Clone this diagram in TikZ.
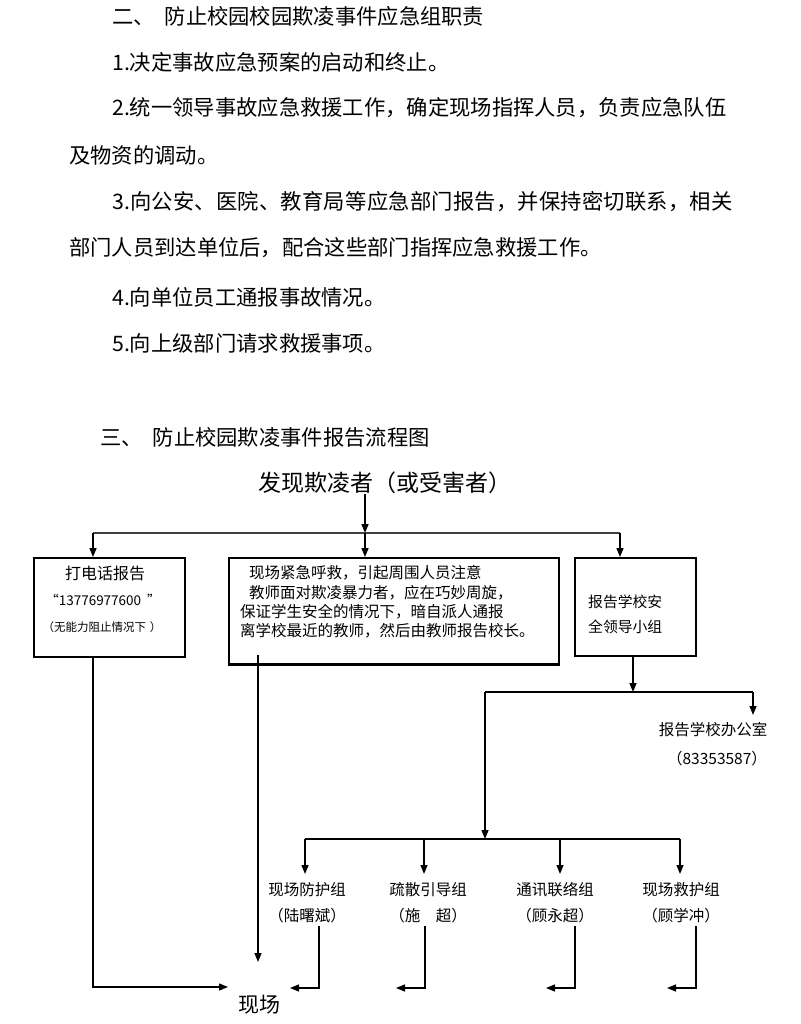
\documentclass[tikz,border=0pt]{standalone}
\usepackage{fontspec}
\setmainfont{Noto Sans CJK SC}
\usetikzlibrary{arrows.meta}
\tikzset{
  conn/.style={line width=1.4pt, -{Triangle[length=9pt,width=7pt]}},
  plain/.style={line width=1.4pt},
  thinline/.style={line width=1.1pt, black!75},
  boxnode/.style={draw, line width=1.6pt, inner sep=0pt, anchor=north west},
  body/.style={anchor=west, inner sep=0pt, font=\fontsize{21.3}{24}\selectfont},
  lbl/.style={inner sep=0pt, font=\fontsize{15.5}{18}\selectfont},
  boxtxt/.style={anchor=west, inner sep=0pt, font=\fontsize{15.5}{18}\selectfont},
}
\begin{document}
\begin{tikzpicture}[x=1pt,y=-1pt]
\useasboundingbox (0,0) rectangle (800,1024);
% ---- section two text
\node[body] (h2) at (112,16) {二、\hspace{10pt}防止校园校园欺凌事件应急组职责};
\node[body] (l1) at (112,62) {1.决定事故应急预案的启动和终止。};
\node[body] (l2) at (112,108) {2.统一领导事故应急救援工作，确定现场指挥人员，负责应急队伍};
\node[body] (l2b) at (69,155) {及物资的调动。};
\node[body] (l3) at (112,202) {\addfontfeature{LetterSpace=1}3.向公安、医院、教育局等应急部门报告，并保持密切联系，相关};
\node[body] (l3b) at (69,248) {部门人员到达单位后，配合这些部门指挥应急救援工作。};
\node[body] (l4) at (112,297) {4.向单位员工通报事故情况。};
\node[body] (l5) at (112,343) {5.向上级部门请求救援事项。};
% ---- section three
\node[body] (h3) at (100,437) {三、\hspace{10pt}防止校园欺凌事件报告流程图};
\node[inner sep=0pt, font=\fontsize{23}{26}\selectfont] (find) at (385,483) {发现欺凌者（或受害者）};
% boxes
\node[boxnode, minimum width=151pt, minimum height=99pt] (call) at (33,557) {};
\node[boxnode, minimum width=330pt, minimum height=106pt] (scene) at (228,557) {};
\draw[line width=2.6pt] (scene.south west) -- (scene.south east);
\node[boxnode, minimum width=121pt, minimum height=98pt] (lead) at (574,557) {};
% box texts
\node[inner sep=0pt, font=\fontsize{16}{19}\selectfont] (callt1) at (105,573) {打电话报告};
\node[inner sep=0pt, font=\fontsize{13.5}{15}\selectfont] (callt2) at (103,600) {“13776977600\hspace{6pt}”};
\node[inner sep=0pt, font=\fontsize{11.5}{13}\selectfont] (callt3) at (102,627) {（无能力阻止情况下\hspace{4pt}）};
\node[boxtxt] (sc1) at (249,573) {现场紧急呼救，引起周围人员注意};
\node[boxtxt] (sc2) at (249,593) {教师面对欺凌暴力者，应在巧妙周旋，};
\node[boxtxt] (sc3) at (240,612) {保证学生安全的情况下，暗自派人通报};
\node[boxtxt] (sc4) at (240,631) {离学校最近的教师，然后由教师报告校长。};
\node[boxtxt, font=\fontsize{14.8}{18}\selectfont] (ld1) at (588,602) {报告学校安};
\node[boxtxt, font=\fontsize{14.8}{18}\selectfont] (ld2) at (588,627) {全领导小组};
% top split
\coordinate (jt) at (365,533);
\coordinate (jl) at (93,533);
\coordinate (jr) at (620,533);
\draw[conn] (find.south -| jt) -- (jt);
\draw[thinline] (jl) -- (jr);
\draw[conn] (jl) -- (jl |- call.north);
\draw[conn] (jt) -- (jt |- scene.north);
\draw[conn] (jr) -- (jr |- lead.north);
% right branch
\coordinate (rj) at (633,692);
\coordinate (rl) at (485,692);
\coordinate (rr) at (753,692);
\draw[conn] (lead.south -| rj) -- (rj);
\draw[plain] (rl) -- (rr);
\node[lbl] (office) at (713,730) {报告学校办公室};
\node[lbl] (officenum) at (717,759) {（83353587）};
\coordinate (officetop) at (753,715);
\draw[conn] (rr) -- (officetop);
% groups
\coordinate (gj) at (485,839);
\coordinate (g1) at (305,839);
\coordinate (g2) at (424,839);
\coordinate (g3) at (560,839);
\coordinate (g4) at (680,839);
\draw[conn] (rl) -- (gj);
\draw[plain] (g1) -- (g4);
\node[lbl] (gA) at (307,890) {现场防护组};
\node[lbl] (gB) at (428,890) {疏散引导组};
\node[lbl] (gC) at (555,890) {通讯联络组};
\node[lbl] (gD) at (681,890) {现场救护组};
\node[lbl] (pA) at (307,916) {（陆曙斌）};
\node[lbl] (pB) at (428,916) {（施　超）};
\node[lbl] (pC) at (555,916) {（顾永超）};
\node[lbl] (pD) at (681,916) {（顾学冲）};
\coordinate (tA) at (305,874);
\coordinate (tB) at (424,874);
\coordinate (tC) at (560,874);
\coordinate (tD) at (680,874);
\draw[conn] (g1) -- (tA);
\draw[conn] (g2) -- (tB);
\draw[conn] (g3) -- (tC);
\draw[conn] (g4) -- (tD);
% field
\node[inner sep=0pt, font=\fontsize{21}{24}\selectfont] (field) at (259,1005) {现场};
\coordinate (fl) at (93,987);
\coordinate (fieldL) at (228,987);
\draw[conn] (call.south -| fl) -- (fl) -- (fieldL);
\coordinate (sc) at (258,655);
\coordinate (fieldT) at (258,962);
\draw[conn] (sc) -- (fieldT);
% return arrows
\coordinate (aA) at (319,926); \coordinate (bA) at (319,988); \coordinate (eA) at (290,988);
\coordinate (aB) at (425,926); \coordinate (bB) at (425,988); \coordinate (eB) at (396,988);
\coordinate (aC) at (575,926); \coordinate (bC) at (575,988); \coordinate (eC) at (546,988);
\coordinate (aD) at (696,926); \coordinate (bD) at (696,988); \coordinate (eD) at (667,988);
\draw[conn] (aA) -- (bA) -- (eA);
\draw[conn] (aB) -- (bB) -- (eB);
\draw[conn] (aC) -- (bC) -- (eC);
\draw[conn] (aD) -- (bD) -- (eD);
\end{tikzpicture}
\end{document}
